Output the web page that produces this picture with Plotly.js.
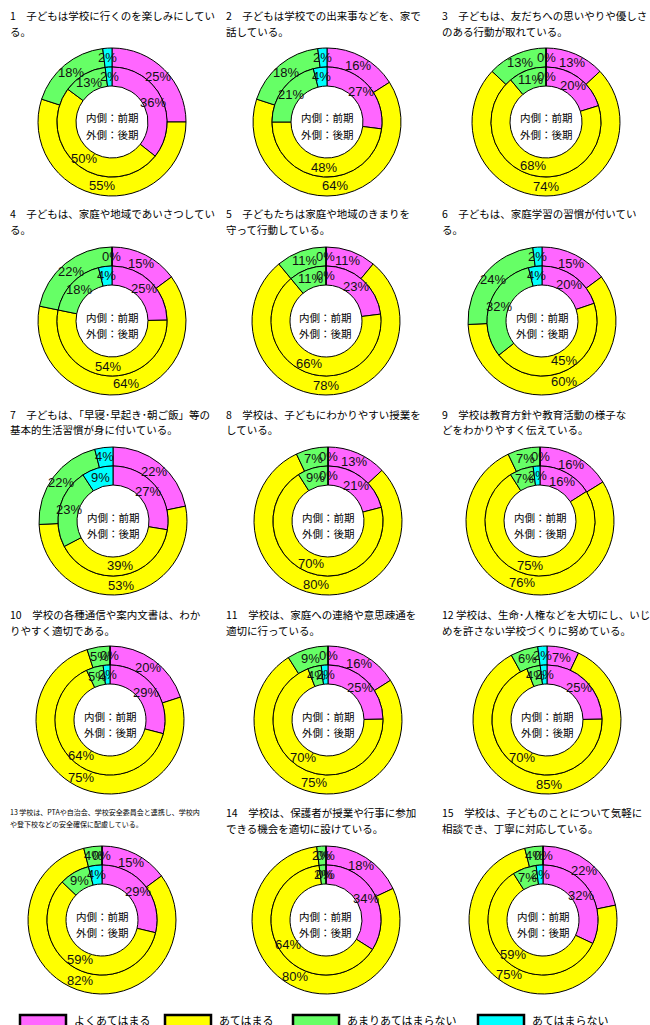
<!DOCTYPE html>
<html><head><meta charset="utf-8">
<script src="https://cdn.plot.ly/plotly-3.0.1.min.js"></script>
<style>html,body{margin:0;padding:0;background:#fff}#chart{width:650px;height:1025px}</style>
</head><body><div id="chart"></div>
<script>
// ---- data ----
const categories = ['よくあてはまる', 'あてはまる', 'あまりあてはまらない', 'あてはまらない'];
const questions = [
  '1　子どもは学校に行くのを楽しみにしてい\nる。',
  '2　子どもは学校での出来事などを、家で\n話している。',
  '3　子どもは、友だちへの思いやりや優しさ\nのある行動が取れている。',
  '4　子どもは、家庭や地域であいさつしてい\nる。',
  '5　子どもたちは家庭や地域のきまりを\n守って行動している。',
  '6　子どもは、家庭学習の習慣が付いてい\nる。',
  '7　子どもは、「早寝･早起き･朝ご飯」等の\n基本的生活習慣が身に付いている。',
  '8　学校は、子どもにわかりやすい授業を\nしている。',
  '9　学校は教育方針や教育活動の様子な\nどをわかりやすく伝えている。',
  '10　学校の各種通信や案内文書は、わか\nりやすく適切である。',
  '11　学校は、家庭への連絡や意思疎通を\n適切に行っている。',
  '12 学校は、生命･人権などを大切にし、いじ\nめを許さない学校づくりに努めている。',
  '13 学校は、PTAや自治会、学校安全委員会と連携し、学校内\nや登下校などの安全確保に配慮している。',
  '14　学校は、保護者が授業や行事に参加\nできる機会を適切に設けている。',
  '15　学校は、子どものことについて気軽に\n相談でき、丁寧に対応している。'
];
// inner ring = 前期 (first term), outer ring = 後期 (second term)
const firstTerm = [
  [36, 50, 13, 2], [27, 48, 21, 4], [20, 68, 11, 0], [25, 54, 18, 4], [23, 66, 11, 0],
  [20, 45, 32, 4], [27, 39, 23, 9], [21, 70, 9, 0], [16, 75, 7, 2], [29, 64, 5, 2],
  [25, 70, 4, 2], [25, 70, 4, 2], [29, 59, 9, 4], [34, 64, 2, 0], [32, 59, 7, 2]
];
const secondTerm = [
  [25, 55, 18, 2], [16, 64, 18, 2], [13, 74, 13, 0], [15, 64, 22, 0], [11, 78, 11, 0],
  [15, 60, 24, 2], [22, 53, 22, 4], [13, 80, 7, 0], [16, 76, 7, 0], [20, 75, 5, 0],
  [16, 75, 9, 0], [7, 85, 6, 2], [15, 82, 4, 0], [18, 80, 2, 0], [22, 75, 4, 0]
];
const centerText = ['内側：前期', '外側：後期'];

// ---- styling / layout ----
const W = 650, H = 1025;
const colors = ['#FF66FF', '#FFFF00', '#66FF66', '#00FFFF'];
const colX = [[112, 327, 546], [112, 326, 542], [113, 328, 540], [110, 328, 547], [102, 326, 543]];
const rowY = [122, 321, 521, 720, 920];
const titleX = [8, 224, 440];
const titleY = [15, 214, 414, 614, 812];
const R_OUT = 74, R_MID = 55, R_HOLE = 36;

const px = x => x / W, py = y => 1 - y / H;
const traces = [], annotations = [], shapes = [];
const labelFont = {family: 'Liberation Sans, Arial, sans-serif', size: 13, color: '#111'};

function ringLabels(vals, cx, cy, r) {
  const tot = vals.reduce((a, b) => a + b, 0);
  let cum = 0;
  vals.forEach(v => {
    const th = (cum + v / 2) / tot * 2 * Math.PI;
    cum += v;
    annotations.push({x: px(cx + r * Math.sin(th)), y: py(cy - r * Math.cos(th)), xref: 'paper', yref: 'paper',
      text: v + '%', showarrow: false, font: labelFont, xanchor: 'center', yanchor: 'middle'});
  });
}

questions.forEach((q, i) => {
  const row = Math.floor(i / 3), col = i % 3;
  const cx = colX[row][col], cy = rowY[row];
  const mk = (vals, R, hole, name) => ({
    type: 'pie', values: vals, labels: categories, sort: false, direction: 'clockwise', rotation: 0,
    hole: hole, textinfo: 'none', textposition: 'none', hoverinfo: 'label+percent', name: name,
    marker: {colors: colors, line: {color: '#000', width: 1}},
    domain: {x: [px(cx - R), px(cx + R)], y: [py(cy + R), py(cy - R)]}
  });
  traces.push(mk(secondTerm[i], R_OUT, R_MID / R_OUT, '後期'));
  traces.push(mk(firstTerm[i], R_MID, R_HOLE / R_MID, '前期'));
  ringLabels(secondTerm[i], cx, cy, (R_OUT + R_MID) / 2);
  ringLabels(firstTerm[i], cx, cy, (R_MID + R_HOLE) / 2);
  centerText.forEach((t, k) => annotations.push({x: px(cx), y: py(cy - 4 + 16 * k), xref: 'paper', yref: 'paper',
    text: t, showarrow: false, xanchor: 'center', yanchor: 'middle',
    font: {family: 'Noto Sans CJK JP, sans-serif', size: 10.5, color: '#000'}}));
  const small = (i === 12);
  q.split('\n').forEach((line, k) => annotations.push({
    x: px(titleX[col]), y: py(titleY[row] + k * (small ? 12 : 16)), xref: 'paper', yref: 'paper',
    text: line, showarrow: false, xanchor: 'left', yanchor: 'middle',
    font: {family: 'Noto Sans CJK JP, sans-serif', size: small ? 7 : 10.5, color: '#000'}}));
});

// legend
const legX = [20, 165, 293, 478];
categories.forEach((c, k) => {
  shapes.push({type: 'rect', xref: 'paper', yref: 'paper', x0: px(legX[k]), x1: px(legX[k] + 46),
    y0: py(1030), y1: py(1015), fillcolor: colors[k], line: {color: '#000', width: 2.5}});
  annotations.push({x: px(legX[k] + 52), y: py(1020), xref: 'paper', yref: 'paper', text: c, showarrow: false,
    xanchor: 'left', yanchor: 'middle', font: {family: 'Noto Sans CJK JP, sans-serif', size: 11, color: '#000'}});
});

Plotly.newPlot('chart', traces, {
  width: W, height: H, margin: {l: 0, r: 0, t: 0, b: 0}, showlegend: false,
  paper_bgcolor: '#fff', plot_bgcolor: '#fff', annotations: annotations, shapes: shapes
}, {staticPlot: true});
</script></body></html>
